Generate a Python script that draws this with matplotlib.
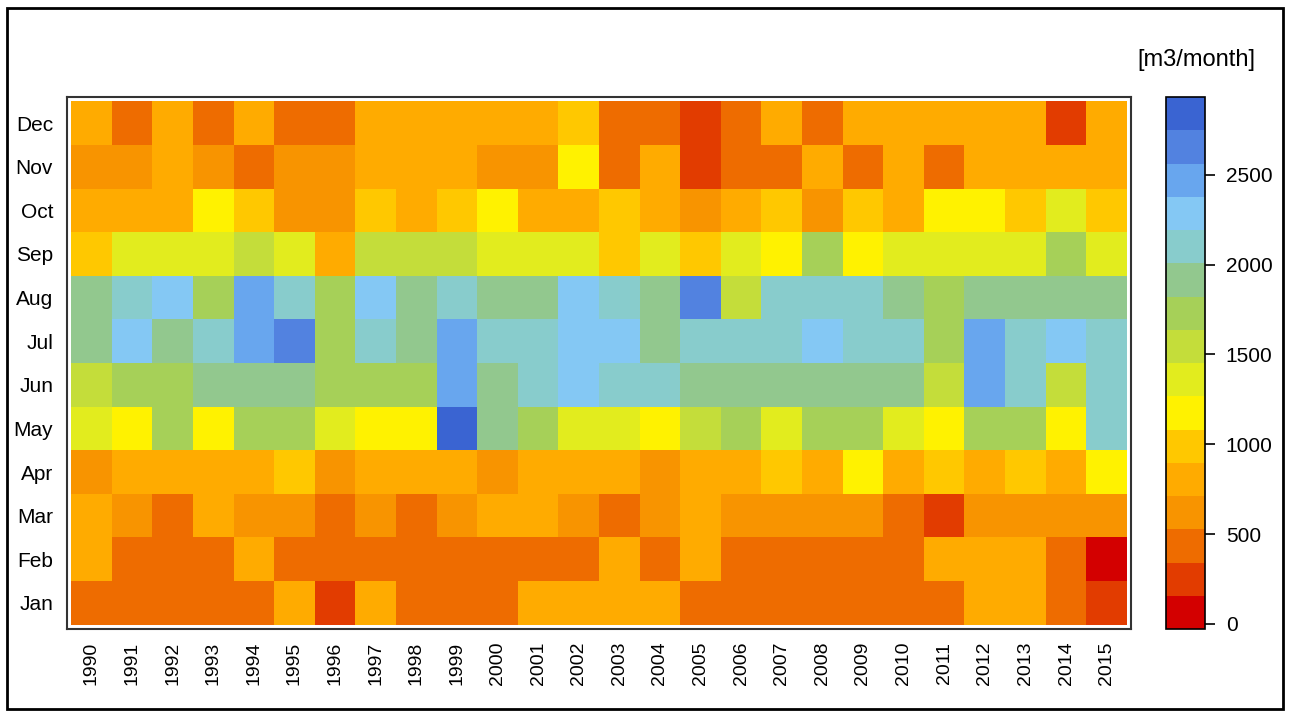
import matplotlib
matplotlib.use("Agg")
import matplotlib.pyplot as plt
from matplotlib.colors import ListedColormap, BoundaryNorm
from matplotlib.patches import Rectangle
import numpy as np

# monthly values [m3/month], 1990..2015
years = list(range(1990, 2016))
months = ["Jan", "Feb", "Mar", "Apr", "May", "Jun",
          "Jul", "Aug", "Sep", "Oct", "Nov", "Dec"]

jan = [430, 430, 430, 430, 430, 800, 250, 800, 430, 430, 430, 800, 800,
       800, 800, 430, 430, 430, 430, 430, 430, 430, 800, 800, 430, 250]
feb = [800, 430, 430, 430, 800, 430, 430, 430, 430, 430, 430, 430, 430,
       800, 430, 800, 430, 430, 430, 430, 430, 800, 800, 800, 430, 60]
mar = [800, 620, 430, 800, 620, 620, 430, 700, 430, 620, 800, 800, 620,
       430, 620, 800, 620, 620, 620, 620, 430, 250, 620, 620, 620, 620]
apr = [620, 800, 800, 800, 800, 990, 620, 800, 800, 800, 700, 800, 800,
       800, 620, 800, 800, 990, 800, 1170, 800, 990, 800, 990, 800, 1170]
may = [1360, 1170, 1730, 1170, 1730, 1730, 1360, 1170, 1170, 2840, 1910, 1730, 1400,
       1360, 1170, 1540, 1730, 1360, 1730, 1730, 1360, 1170, 1730, 1730, 1170, 2100]
jun = [1540, 1730, 1730, 1910, 1910, 1910, 1730, 1730, 1730, 2470, 1910, 2100, 2280,
       2100, 2100, 1910, 1910, 1910, 1910, 1910, 1910, 1600, 2470, 2100, 1540, 2100]
jul = [1910, 2280, 1910, 2100, 2470, 2650, 1730, 2100, 1910, 2470, 2100, 2100, 2280,
       2280, 1910, 2100, 2100, 2100, 2280, 2100, 2100, 1730, 2470, 2100, 2280, 2100]
aug = [1910, 2100, 2280, 1730, 2470, 2100, 1730, 2280, 1910, 2100, 1910, 1910, 2280,
       2100, 1910, 2650, 1540, 2100, 2100, 2100, 1910, 1730, 1910, 1910, 1910, 1910]
sep = [990, 1360, 1360, 1360, 1540, 1360, 800, 1540, 1540, 1540, 1360, 1360, 1360,
       990, 1360, 990, 1360, 1170, 1730, 1170, 1360, 1360, 1360, 1360, 1730, 1360]
oct_ = [800, 800, 800, 1170, 990, 620, 620, 990, 800, 990, 1170, 800, 800,
        990, 800, 620, 800, 990, 620, 990, 800, 1170, 1170, 990, 1360, 990]
nov = [620, 620, 800, 620, 430, 620, 620, 800, 800, 800, 620, 620, 1170,
       430, 800, 250, 430, 430, 800, 430, 800, 430, 800, 800, 800, 800]
dec = [800, 430, 800, 430, 800, 430, 430, 800, 800, 800, 800, 800, 990,
       430, 430, 250, 430, 800, 430, 800, 800, 800, 800, 800, 250, 800]

cbar_ticks = [0, 500, 1000, 1500, 2000, 2500]

data = np.array([jan, feb, mar, apr, may, jun, jul, aug, sep, oct_, nov, dec])

band_colors = ["#d30000", "#e23c00", "#ee6c00", "#f89400", "#ffab00", "#ffc800",
               "#fff200", "#e2ec1e", "#c4dd3a", "#a6d058", "#92c88e", "#88cccc",
               "#84c8f4", "#68a6ee", "#5282e0", "#3a64d2"]
cmap = ListedColormap(band_colors)
bounds = np.linspace(-28, 2932, len(band_colors) + 1)
norm = BoundaryNorm(bounds, cmap.N)

fig = plt.figure(figsize=(12.89, 7.15), dpi=100)
plt.rcParams['font.family'] = ['Liberation Sans', 'DejaVu Sans']

ax = fig.add_axes([67 / 1289, 1 - 629 / 715, (1131 - 67) / 1289, (629 - 97) / 715])
xe = np.arange(len(years) + 1) - 0.5
ye = np.arange(len(months) + 1) - 0.5
ax.pcolormesh(xe, ye, data, cmap=cmap, norm=norm)
ax.set_xlim(-0.6, len(years) - 0.4)
ax.set_ylim(-0.6, len(months) - 0.4)
ax.set_xticks(range(len(years)))
ax.set_xticklabels([str(y) for y in years], rotation=90, fontsize=14)
ax.set_yticks(range(len(months)))
ax.set_yticklabels(months, fontsize=15)
ax.tick_params(axis="x", length=0, pad=9)
ax.tick_params(axis="y", length=0, pad=10)
for s in ax.spines.values():
    s.set_linewidth(1.5)
    s.set_color("#333333")

cax = fig.add_axes([1166 / 1289, 1 - 629 / 715, 39 / 1289, (629 - 97) / 715])
sm = plt.cm.ScalarMappable(cmap=cmap, norm=norm)
cb = fig.colorbar(sm, cax=cax, boundaries=bounds, ticks=cbar_ticks)
cb.minorticks_off()
cb.outline.set_linewidth(1.2)
cax.tick_params(labelsize=15, length=7, width=1.2, pad=8)
fig.text(1255 / 1289, 1 - 60 / 715, "[m3/month]", ha="right", va="center", fontsize=17)

# outer frame of the picture
fig.patches.append(Rectangle((7 / 1289, 6 / 715), 1276 / 1289, 701 / 715,
                             transform=fig.transFigure, fill=False,
                             edgecolor="black", linewidth=2))

fig.savefig("out.png", dpi=100)
